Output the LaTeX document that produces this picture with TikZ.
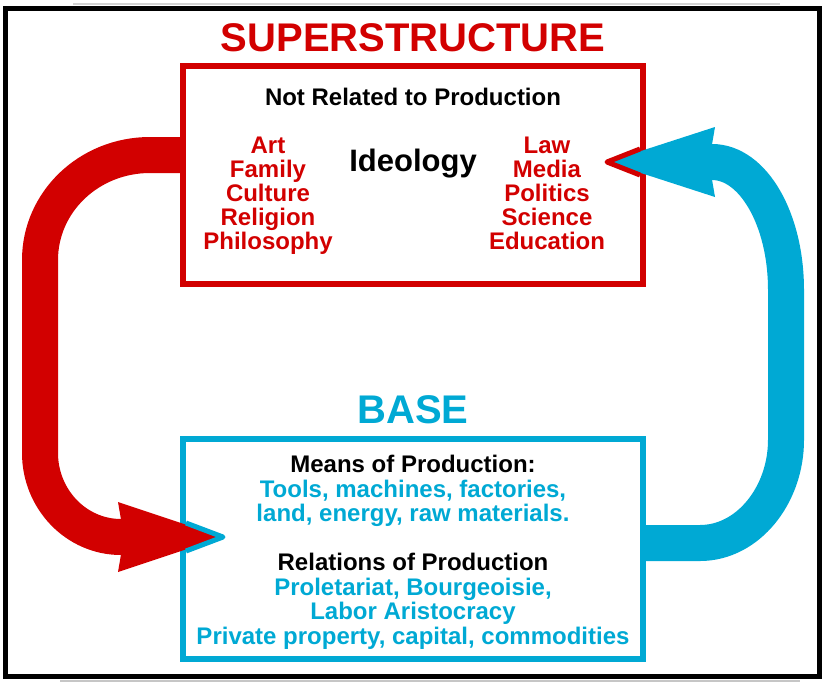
\documentclass[tikz,border=0pt]{standalone}
\usepackage{fontspec}
\setmainfont{Liberation Sans}
\usetikzlibrary{
	positioning,
	arrows.meta
}
\definecolor{supred}{RGB}{210,0,0}
\definecolor{baseblue}{RGB}{0,169,212}

\begin{document}
\begin{tikzpicture}[x=1pt,y=-1pt,
		every node/.style={font=\bfseries},
		box/.style={draw,line width=6pt,minimum width=460pt,inner sep=0pt},
		heading/.style={font=\bfseries\fontsize{40}{40}\selectfont},
		lines/.style={font=\bfseries\fontsize{24}{24}\selectfont,align=center},
		baselines/.style={font=\bfseries\fontsize{24}{24.5}\selectfont,align=center,text=baseblue},
		band/.style={line width=36pt},
		head/.style={-{Stealth[length=#1,width=70pt,inset=6pt,line width=0pt]}}
	]
		\useasboundingbox (0,0) rectangle (830,686);

		% frame
		\draw[gray!35,line width=2pt] (73,4) -- (780,4);
		\draw[gray!45,line width=2pt] (60,681) -- (800,681);
		\draw[line width=5pt] (5.5,8.5) rectangle (819.5,676.5);

		% the two boxes
		\node[box,draw=supred,minimum height=218pt] (super) at (413,175) {};
		\node[box,draw=baseblue,minimum height=220pt] (base) at (413,549) {};

		\node[heading,text=supred] (supertitle) at (413,38) {SUPERSTRUCTURE};
		\node[heading,text=baseblue] (basetitle) at (413,410) {BASE};

		% superstructure
		\node[lines] (notrelated) at (413,97) {Not Related to Production};
		\node[font=\bfseries\fontsize{31}{31}\selectfont] (ideology) at (413,164) {Ideology};
		\node[lines,text=supred] (leftlist) at (268,195.5)
			{Art\\Family\\Culture\\Religion\\Philosophy};
		\node[lines,text=supred] (rightlist) at (547,193)
			{Law\\Media\\Politics\\Science\\Education};

		% base
		\node[baselines] (means) at (413,491)
			{\textcolor{black}{Means of Production:}\\
			Tools, machines, factories,\\
			land, energy, raw materials.};
		\node[baselines] (relations) at (413,601.3)
			{\textcolor{black}{Relations of Production}\\
			Proletariat, Bourgeoisie,\\
			Labor Aristocracy\\
			Private property, capital, commodities};

		% arrows
		\draw[band,supred,head=105pt]
			([yshift=20pt]super.west) -- (150,155)
			.. controls (89,155) and (40,202) .. (40,260) -- (40,453)
			.. controls (40,499) and (76,537) .. (121,537)
			-- ([shift={(43pt,12pt)}]base.west);
		\draw[baseblue,line width=5pt,line join=round]
			(186,523) -- ([shift={(43pt,12pt)}]base.west) -- (186,551);

		\draw[band,baseblue,head=108pt]
			([yshift=6pt]base.east) -- (700,543)
			.. controls (748,543) and (786,495) .. (786,440) -- (786,290)
			.. controls (786,219) and (753,162) .. (712,162)
			-- ([shift={(-39pt,13pt)}]super.east);
		\draw[supred,line width=5pt,line join=round]
			(640,149) -- ([shift={(-39pt,13pt)}]super.east) -- (640,175);
	\end{tikzpicture}
\end{document}
